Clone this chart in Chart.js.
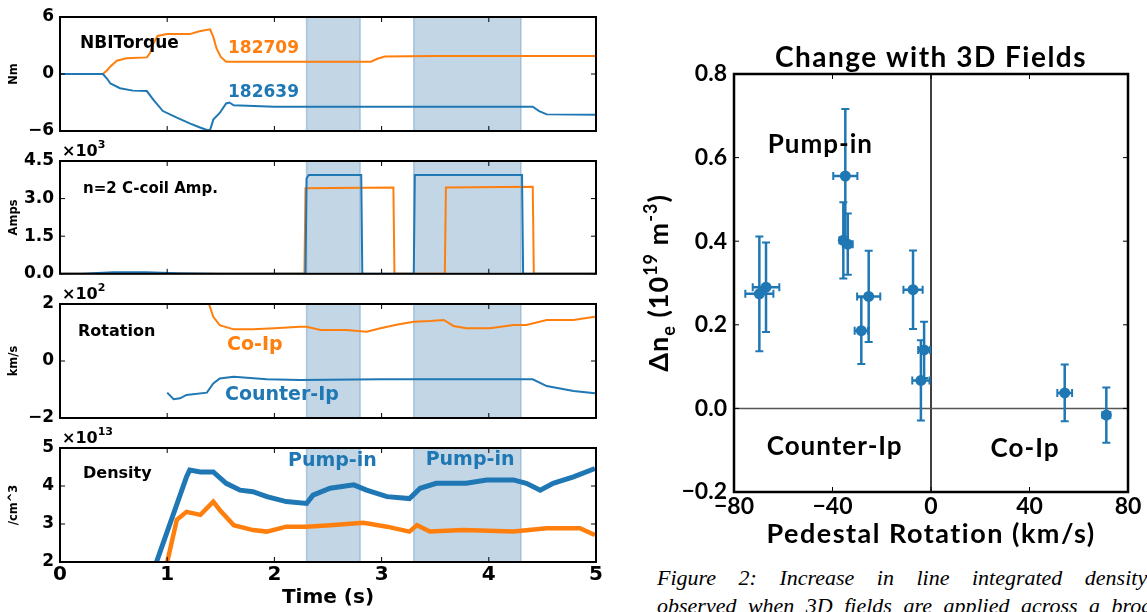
<!DOCTYPE html>
<html>
<head>
<meta charset="utf-8">
<script src="https://cdn.jsdelivr.net/npm/chart.js@4.4.1/dist/chart.umd.min.js"></script>
<style>
  body { margin: 0; background: #fff; width: 1147px; height: 612px; overflow: hidden; position: relative; }
  canvas { position: absolute; }
  .cap { position: absolute; left: 657px; font: italic 22px 'Liberation Serif', serif; white-space: nowrap; line-height: 28px; color: #000; }
</style>
</head>
<body>
<canvas id="torque" width="610" height="150" style="left:0;top:0"></canvas>
<canvas id="coil" width="610" height="155" style="left:0;top:135px"></canvas>
<canvas id="rotation" width="610" height="155" style="left:0;top:280px"></canvas>
<canvas id="density" width="610" height="187" style="left:0;top:425px"></canvas>
<canvas id="scan" width="507" height="560" style="left:640px;top:0"></canvas>
<div class="cap" style="top:564px;word-spacing:17px">Figure 2: Increase in line integrated density</div>
<div class="cap" style="top:592px;word-spacing:6px">observed when 3D fields are applied across a broad</div>
<script>
const BLUE = '#1f77b4';
const ORANGE = '#ff7f0e';
const LEFT_FONT = "'DejaVu Sans', sans-serif";
const RIGHT_FONT = "Lato, 'Open Sans', sans-serif";

// time traces, shot 182709 (orange) and 182639 (blue)
const timeTicks = [0, 1, 2, 3, 4, 5];
const pumpFrom = [2.3, 3.3];
const pumpTo = [2.8, 4.3];

const torqueTicks = [-6, 0, 6];
const tqOrangeT = [0, 0.40, 0.44, 0.47, 0.53, 0.62, 0.81, 0.84, 0.87, 0.91, 1.00, 1.21, 1.30, 1.40, 1.43, 1.46, 1.50, 1.55, 2.00, 2.50, 2.90, 2.96, 3.03, 3.50, 4.00, 4.50, 5.00];
const tqOrangeV = [0, 0, 0.4, 0.8, 1.4, 1.65, 1.75, 2.2, 3.2, 4.0, 4.2, 4.2, 4.5, 4.7, 3.9, 2.7, 1.8, 1.3, 1.3, 1.3, 1.3, 1.6, 1.85, 1.9, 1.9, 1.9, 1.9];
const tqBlueT = [0, 0.40, 0.44, 0.47, 0.56, 0.68, 0.81, 0.87, 0.96, 1.09, 1.21, 1.30, 1.37, 1.40, 1.43, 1.49, 1.55, 1.58, 1.62, 2.00, 3.00, 4.00, 4.41, 4.47, 4.54, 5.00];
const tqBlueV = [0, 0, -0.5, -1.0, -1.5, -1.75, -1.8, -2.7, -3.9, -4.6, -5.2, -5.6, -5.9, -5.9, -4.8, -4.1, -3.1, -3.0, -3.3, -3.45, -3.45, -3.45, -3.45, -3.9, -4.25, -4.3];

const coilTicks = [0, 1500, 3000, 4500];
const ccBlueT = [0, 0.2, 0.5, 0.8, 1.1, 1.5, 2.29, 2.30, 2.32, 2.81, 2.82, 3.30, 3.31, 4.31, 4.32, 5.0];
const ccBlueV = [0, 0, 60, 60, 20, 0, 0, 3800, 3940, 3940, 0, 0, 3940, 3940, 0, 0];
const ccOrangeT = [0, 2.28, 2.29, 3.11, 3.12, 3.59, 3.60, 4.41, 4.42, 5.0];
const ccOrangeV = [0, 0, 3410, 3440, 0, 0, 3440, 3470, 0, 0];

const rotTicks = [-200, 0, 200];
const rotOrangeT = [1.36, 1.39, 1.43, 1.49, 1.62, 1.80, 2.00, 2.24, 2.30, 2.43, 2.67, 2.86, 2.99, 3.15, 3.30, 3.45, 3.58, 3.67, 3.79, 4.01, 4.23, 4.35, 4.54, 4.79, 4.99];
const rotOrangeV = [260, 200, 155, 126, 111, 111, 115, 120, 120, 109, 109, 103, 115, 128, 138, 140, 144, 123, 115, 115, 126, 126, 144, 144, 155];
const rotBlueT = [1.00, 1.06, 1.12, 1.18, 1.37, 1.43, 1.49, 1.62, 1.93, 2.24, 3.00, 4.00, 4.41, 4.54, 4.79, 4.99];
const rotBlueV = [-111, -134, -131, -119, -111, -79, -61, -55, -64, -67, -64, -64, -64, -88, -105, -113];

const denTicks = [2e13, 3e13, 4e13, 5e13];
const denBlueT = [0.90, 1.18, 1.21, 1.31, 1.43, 1.55, 1.68, 1.80, 1.93, 2.11, 2.30, 2.36, 2.52, 2.74, 2.86, 3.05, 3.26, 3.36, 3.51, 3.79, 3.98, 4.23, 4.35, 4.48, 4.60, 4.79, 4.99];
const denBlueV = [2.0e13, 4.24e13, 4.42e13, 4.37e13, 4.37e13, 4.07e13, 3.89e13, 3.85e13, 3.72e13, 3.59e13, 3.54e13, 3.76e13, 3.94e13, 4.03e13, 3.89e13, 3.72e13, 3.67e13, 3.94e13, 4.07e13, 4.07e13, 4.16e13, 4.16e13, 4.07e13, 3.89e13, 4.07e13, 4.24e13, 4.46e13];
const denOrangeT = [1.00, 1.09, 1.18, 1.31, 1.43, 1.49, 1.62, 1.80, 1.93, 2.11, 2.30, 2.52, 2.83, 3.05, 3.26, 3.33, 3.45, 3.76, 4.23, 4.54, 4.85, 4.99];
const denOrangeV = [2.0e13, 3.11e13, 3.32e13, 3.24e13, 3.59e13, 3.37e13, 2.97e13, 2.84e13, 2.80e13, 2.93e13, 2.93e13, 2.97e13, 3.03e13, 2.93e13, 2.80e13, 2.97e13, 2.80e13, 2.84e13, 2.80e13, 2.89e13, 2.89e13, 2.71e13];

// pedestal rotation scan
const rotXTicks = [-80, -40, 0, 40, 80];
const dneTicks = [-0.2, 0.0, 0.2, 0.4, 0.6, 0.8];
const pedRot = [-69.7, -67.0, -34.8, -35.6, -33.8, -25.3, -28.3, -7.3, -2.8, -4.1, 54.3, 71.2];
const pedRotErr = [5.7, 5.4, 4.9, 1.6, 2.0, 4.7, 2.7, 3.9, 2.4, 3.5, 3.0, 1.6];
const dne = [0.274, 0.290, 0.556, 0.402, 0.393, 0.268, 0.186, 0.284, 0.140, 0.067, 0.037, -0.016];
const dneErr = [0.137, 0.107, 0.16, 0.091, 0.073, 0.109, 0.08, 0.094, 0.067, 0.096, 0.068, 0.066];

const torqueNotes = [
  {text: 'NBITorque', x: 0.187, y: 2.7, color: '#000', size: 17},
  {text: '182709', x: 1.567, y: 2.18, color: ORANGE, size: 17},
  {text: '182639', x: 1.567, y: -2.39, color: BLUE, size: 17}
];
const coilNotes = [{text: 'n=2 C-coil Amp.', x: 0.215, y: 3214, color: '#000', size: 15}];
const rotNotes = [
  {text: 'Rotation', x: 0.168, y: 88, color: '#000', size: 16},
  {text: 'Co-Ip', x: 1.558, y: 39, color: ORANGE, size: 19},
  {text: 'Counter-Ip', x: 1.539, y: -137, color: BLUE, size: 19}
];
const denNotes = [
  {text: 'Density', x: 0.215, y: 4.21e13, color: '#000', size: 16},
  {text: 'Pump-in', x: 2.127, y: 4.53e13, color: BLUE, size: 19},
  {text: 'Pump-in', x: 3.411, y: 4.55e13, color: BLUE, size: 19}
];
const scanNotes = [
  {text: 'Pump-in', x: -66.3, y: 0.611, color: '#000', size: 26},
  {text: 'Counter-Ip', x: -66.7, y: -0.112, color: '#000', size: 26},
  {text: 'Co-Ip', x: 24.2, y: -0.117, color: '#000', size: 26}
];

const minus = v => String(v).replace('-', '\u2212');
const pairs = (xs, ys) => xs.map((x, i) => ({x: x, y: ys[i]}));

//spines, inward ticks and the x10^n offset text
const frame = {
  id: 'frame',
  afterDatasetsDraw(chart, args, o) {
    const {ctx, chartArea: a, scales: {x, y}} = chart;
    ctx.save();
    ctx.strokeStyle = '#000';
    ctx.lineWidth = 1;
    ctx.beginPath();
    o.xTicks.forEach(v => {
      const px = x.getPixelForValue(v);
      ctx.moveTo(px, a.top); ctx.lineTo(px, a.top + 5);
      ctx.moveTo(px, a.bottom); ctx.lineTo(px, a.bottom - 5);
    });
    o.yTicks.forEach(v => {
      const py = y.getPixelForValue(v);
      ctx.moveTo(a.left, py); ctx.lineTo(a.left + 5, py);
      ctx.moveTo(a.right, py); ctx.lineTo(a.right - 5, py);
    });
    ctx.stroke();
    ctx.lineWidth = o.width;
    ctx.strokeRect(a.left, a.top, a.right - a.left, a.bottom - a.top);
    if (o.power) {
      ctx.fillStyle = '#000';
      ctx.textBaseline = 'alphabetic';
      ctx.font = 'bold 16px ' + LEFT_FONT;
      ctx.fillText('\u00d710', a.left + 2, a.top - 5);
      const w = ctx.measureText('\u00d710').width;
      ctx.font = 'bold 11px ' + LEFT_FONT;
      ctx.fillText(o.power, a.left + 2 + w, a.top - 13);
    }
    ctx.restore();
  }
};

const spans = {
  id: 'spans',
  beforeDatasetsDraw(chart, args, o) {
    if (!o.from) return;
    const {ctx, chartArea: a, scales: {x}} = chart;
    ctx.save();
    o.from.forEach((f, i) => {
      const x0 = x.getPixelForValue(f);
      const x1 = x.getPixelForValue(o.to[i]);
      ctx.fillStyle = 'rgba(70,130,180,0.33)';
      ctx.fillRect(x0, a.top, x1 - x0, a.bottom - a.top);
      ctx.strokeStyle = 'rgba(70,130,180,0.35)';
      ctx.lineWidth = 1.5;
      ctx.beginPath();
      ctx.moveTo(x0, a.top); ctx.lineTo(x0, a.bottom);
      ctx.moveTo(x1, a.top); ctx.lineTo(x1, a.bottom);
      ctx.stroke();
    });
    ctx.restore();
  }
};

const notes = {
  id: 'notes',
  afterDatasetsDraw(chart, args, o) {
    if (!o.items) return;
    const {ctx, scales: {x, y}} = chart;
    ctx.save();
    ctx.textBaseline = 'alphabetic';
    ctx.letterSpacing = (o.spacing || 0) + 'px';
    o.items.forEach(n => {
      ctx.font = 'bold ' + n.size + 'px ' + o.family;
      ctx.fillStyle = n.color;
      ctx.fillText(n.text, x.getPixelForValue(n.x), y.getPixelForValue(n.y));
    });
    ctx.restore();
  }
};

Chart.defaults.color = '#000';
Chart.defaults.animation = false;

function trace(t, v, color, width) {
  return {data: pairs(t, v), borderColor: color, borderWidth: width || 2, pointRadius: 0, tension: 0, clip: 0, fill: false};
}

function panel(id, cfg) {
  new Chart(document.getElementById(id), {
    type: 'line',
    data: {datasets: cfg.datasets},
    options: {
      responsive: false,
      layout: {padding: {left: 0, top: cfg.padTop, right: 14, bottom: cfg.padBottom}},
      plugins: {
        legend: {display: false},
        tooltip: {enabled: false},
        frame: {xTicks: timeTicks, yTicks: cfg.yTicks, width: 2, power: cfg.power},
        spans: {from: pumpFrom, to: pumpTo},
        notes: {items: cfg.notes, family: LEFT_FONT}
      },
      scales: {
        x: {
          type: 'linear', min: 0, max: 5,
          display: cfg.showX,
          afterBuildTicks: s => { s.ticks = timeTicks.map(v => ({value: v})); },
          afterFit: s => { s.height = cfg.showX ? 50 : 0; },
          grid: {display: false, drawTicks: false},
          border: {display: false},
          ticks: {padding: 1, font: {family: LEFT_FONT, size: 20, weight: 'bold'}},
          title: {display: true, text: 'Time (s)', padding: {top: 0, bottom: 2}, font: {family: LEFT_FONT, size: 20, weight: 'bold'}}
        },
        y: {
          min: cfg.yTicks[0], max: cfg.yTicks[cfg.yTicks.length - 1],
          afterBuildTicks: s => { s.ticks = cfg.yTicks.map(v => ({value: v})); },
          afterFit: s => { s.width = 60; },
          grid: {display: false, drawTicks: false},
          border: {display: false},
          ticks: {padding: 6, font: {family: LEFT_FONT, size: 17, weight: 'bold'}, callback: cfg.fmt},
          title: {display: true, text: cfg.unit, padding: {top: 7, bottom: 0}, font: {family: LEFT_FONT, size: 11.5, weight: 'bold'}}
        }
      }
    },
    plugins: [spans, frame, notes]
  });
}

panel('torque', {
  datasets: [trace(tqBlueT, tqBlueV, BLUE), trace(tqOrangeT, tqOrangeV, ORANGE)],
  yTicks: torqueTicks, unit: 'Nm', notes: torqueNotes, padTop: 17, padBottom: 19, showX: false,
  fmt: v => minus(v)
});
panel('coil', {
  datasets: [trace(ccBlueT, ccBlueV, BLUE), trace(ccOrangeT, ccOrangeV, ORANGE)],
  yTicks: coilTicks, unit: 'Amps', notes: coilNotes, padTop: 26, padBottom: 16, showX: false, power: '3',
  fmt: v => (v / 1000).toFixed(1)
});
panel('rotation', {
  datasets: [trace(rotBlueT, rotBlueV, BLUE), trace(rotOrangeT, rotOrangeV, ORANGE)],
  yTicks: rotTicks, unit: 'km/s', notes: rotNotes, padTop: 24, padBottom: 17, showX: false, power: '2',
  fmt: v => minus(v / 100)
});
panel('density', {
  datasets: [trace(denBlueT, denBlueV, BLUE, 5), trace(denOrangeT, denOrangeV, ORANGE, 4.5)],
  yTicks: denTicks, unit: '/cm^3', notes: denNotes, padTop: 23, padBottom: 0, showX: true, power: '13',
  fmt: v => String(Math.round(v / 1e13))
});

//error bars, zero lines and the wide-set titles of the scan plot
const errorBars = {
  id: 'errorBars',
  beforeDatasetsDraw(chart) {
    const {ctx, chartArea: a, scales: {x, y}} = chart;
    ctx.save();
    ctx.lineWidth = 1.5;
    ctx.strokeStyle = '#000';
    const x0 = x.getPixelForValue(0), y0 = y.getPixelForValue(0);
    ctx.beginPath(); ctx.moveTo(x0, a.top); ctx.lineTo(x0, a.bottom); ctx.stroke();
    ctx.strokeStyle = '#555';
    ctx.beginPath(); ctx.moveTo(a.left, y0); ctx.lineTo(a.right, y0); ctx.stroke();
    ctx.strokeStyle = BLUE;
    pedRot.forEach((r, i) => {
      const px = x.getPixelForValue(r), py = y.getPixelForValue(dne[i]);
      const xl = x.getPixelForValue(r - pedRotErr[i]), xr = x.getPixelForValue(r + pedRotErr[i]);
      const yt = y.getPixelForValue(dne[i] + dneErr[i]), yb = y.getPixelForValue(dne[i] - dneErr[i]);
      ctx.lineWidth = 2.5;
      ctx.beginPath();
      ctx.moveTo(px, yt); ctx.lineTo(px, yb);
      ctx.moveTo(xl, py); ctx.lineTo(xr, py);
      ctx.stroke();
      ctx.lineWidth = 2;
      ctx.beginPath();
      ctx.moveTo(px - 4, yt); ctx.lineTo(px + 4, yt);
      ctx.moveTo(px - 4, yb); ctx.lineTo(px + 4, yb);
      ctx.moveTo(xl, py - 4); ctx.lineTo(xl, py + 4);
      ctx.moveTo(xr, py - 4); ctx.lineTo(xr, py + 4);
      ctx.stroke();
    });
    ctx.restore();
  },
  afterDraw(chart) {
    const {ctx, chartArea: a} = chart;
    const cxMid = (a.left + a.right) / 2;
    ctx.save();
    ctx.fillStyle = '#000';
    ctx.textAlign = 'center';
    ctx.textBaseline = 'alphabetic';
    ctx.letterSpacing = '1.5px';
    ctx.font = 'bold 28px ' + RIGHT_FONT;
    ctx.fillText('Change with 3D Fields', cxMid, a.top - 7);
    ctx.font = 'bold 27px ' + RIGHT_FONT;
    ctx.fillText('Pedestal Rotation (km/s)', cxMid, 543);
    //rotated y title with sub and superscripts
    ctx.letterSpacing = '1px';
    const parts = [['\u0394n', 27, 0], ['e', 18, 7], [' (10', 27, 0], ['19', 18, -11], [' m', 27, 0], ['-3', 18, -11], [')', 27, 0]];
    let total = 0;
    parts.forEach(p => { ctx.font = 'bold ' + p[1] + 'px ' + RIGHT_FONT; total += ctx.measureText(p[0]).width; });
    ctx.translate(28, (a.top + a.bottom) / 2);
    ctx.rotate(-Math.PI / 2);
    ctx.textAlign = 'left';
    let cx = -total / 2;
    parts.forEach(p => {
      ctx.font = 'bold ' + p[1] + 'px ' + RIGHT_FONT;
      ctx.fillText(p[0], cx, p[2]);
      cx += ctx.measureText(p[0]).width;
    });
    ctx.restore();
  }
};

new Chart(document.getElementById('scan'), {
  type: 'scatter',
  data: {
    datasets: [{
      data: pairs(pedRot, dne),
      backgroundColor: BLUE,
      borderColor: BLUE,
      pointRadius: 5.5,
      pointBorderWidth: 0
    }]
  },
  options: {
    responsive: false,
    layout: {padding: {left: 0, top: 74, right: 19, bottom: 0}},
    plugins: {
      legend: {display: false},
      tooltip: {enabled: false},
      frame: {xTicks: rotXTicks, yTicks: dneTicks, width: 2.5},
      notes: {items: scanNotes, family: RIGHT_FONT, spacing: 1}
    },
    scales: {
      x: {
        type: 'linear', min: -80, max: 80,
        afterBuildTicks: s => { s.ticks = rotXTicks.map(v => ({value: v})); },
        afterFit: s => { s.height = 68; },
        grid: {display: false, drawTicks: false},
        border: {display: false},
        ticks: {padding: 1, font: {family: RIGHT_FONT, size: 23, weight: 'bold'}, callback: v => minus(v)}
      },
      y: {
        min: -0.2, max: 0.8,
        afterBuildTicks: s => { s.ticks = dneTicks.map(v => ({value: v})); },
        afterFit: s => { s.width = 94; },
        grid: {display: false, drawTicks: false},
        border: {display: false},
        ticks: {padding: 7, font: {family: RIGHT_FONT, size: 23, weight: 'bold'}, callback: v => minus(v.toFixed(1))}
      }
    }
  },
  plugins: [errorBars, frame, notes]
});
</script>
</body>
</html>
